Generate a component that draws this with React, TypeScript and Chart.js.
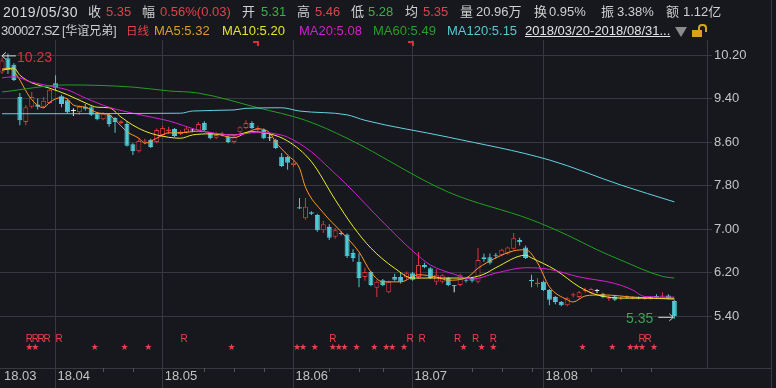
import React, { useEffect, useRef } from 'react';
import { Chart, registerables } from 'chart.js';

Chart.register(...registerables);

// ---------- data ----------
const monthLabels = ['18.03', '18.04', '18.05', '18.06', '18.07', '18.08'];
const monthStartIdx = [0, 9, 27, 49, 69, 91];
const weekTickIdx = [17, 22, 34, 39, 44, 55, 60, 64, 79, 84, 89, 99, 104, 109];
const yTickValues = [5.4, 6.2, 7.0, 7.8, 8.6, 9.4, 10.2];

const opens = [
  9.88, 10.14, 10.02, 9.43, 8.97, 9.25, 9.29, 9.25, 9.32, 9.68,
  9.44, 9.37, 9.17, 9.15, 9.25, 9.24, 9.13, 9.02, 9.10, 9.04,
  8.95, 8.93, 8.56, 8.43, 8.61, 8.64, 8.60, 8.73, 8.80, 8.84,
  8.75, 8.78, 8.81, 8.81, 8.95, 8.76, 8.68, 8.72, 8.70, 8.60,
  8.78, 8.86, 8.95, 8.83, 8.82, 8.67, 8.64, 8.33, 8.33, 8.18,
  7.40, 7.20, 7.31, 7.26, 6.98, 7.04, 6.86, 6.93, 6.90, 6.56,
  6.40, 6.12, 6.21, 5.92, 6.06, 5.84, 6.12, 6.12, 6.11, 6.19,
  6.12, 6.34, 6.28, 6.03, 6.03, 6.10, 5.95, 5.97, 6.07, 6.10,
  6.03, 6.48, 6.48, 6.52, 6.52, 6.55, 6.64, 6.80, 6.66, 6.07,
  5.99, 6.03, 5.88, 5.75, 5.66, 5.60, 5.78, 5.75, 5.86, 5.83,
  5.86, 5.81, 5.72, 5.76, 5.71, 5.76, 5.73, 5.75, 5.72, 5.75,
  5.77, 5.76, 5.78, 5.68,
];
const highs = [
  10.15, 10.23, 10.05, 9.50, 9.28, 9.52, 9.40, 9.43, 9.58, 9.83,
  9.47, 9.40, 9.22, 9.27, 9.30, 9.27, 9.15, 9.15, 9.13, 9.06,
  9.00, 8.98, 8.58, 8.67, 8.66, 8.66, 8.85, 8.90, 8.88, 8.86,
  8.81, 8.88, 8.85, 8.97, 8.98, 8.78, 8.78, 8.79, 8.72, 8.72,
  8.89, 9.00, 8.98, 8.90, 8.85, 8.76, 8.66, 8.40, 8.35, 8.25,
  7.57, 7.57, 7.33, 7.28, 7.15, 7.09, 7.02, 6.96, 6.92, 6.63,
  6.55, 6.29, 6.23, 6.06, 6.08, 6.05, 6.18, 6.20, 6.22, 6.21,
  6.58, 6.38, 6.30, 6.26, 6.17, 6.12, 5.96, 6.18, 6.10, 6.12,
  6.65, 6.55, 6.55, 6.56, 6.64, 6.68, 6.93, 6.84, 6.70, 6.16,
  6.10, 6.05, 5.90, 5.77, 5.68, 5.75, 5.83, 5.86, 5.92, 5.92,
  5.90, 5.83, 5.78, 5.78, 5.76, 5.78, 5.77, 5.76, 5.76, 5.77,
  5.80, 5.84, 5.80, 5.70,
];
const lows = [
  9.85, 9.85, 9.72, 8.91, 8.91, 9.22, 9.20, 9.22, 9.30, 9.55,
  9.24, 9.13, 9.08, 9.10, 9.18, 9.08, 9.00, 9.00, 8.88, 8.77,
  8.93, 8.52, 8.36, 8.41, 8.56, 8.49, 8.58, 8.70, 8.75, 8.69,
  8.73, 8.76, 8.78, 8.79, 8.80, 8.65, 8.65, 8.70, 8.58, 8.57,
  8.76, 8.84, 8.84, 8.80, 8.65, 8.62, 8.47, 8.14, 8.09, 8.14,
  7.37, 7.17, 7.26, 6.95, 6.93, 6.80, 6.82, 6.88, 6.47, 6.40,
  5.93, 6.05, 5.95, 5.75, 5.95, 5.82, 6.05, 6.00, 6.08, 6.05,
  6.09, 6.28, 6.08, 5.97, 6.00, 5.95, 5.84, 5.95, 6.02, 6.02,
  6.00, 6.40, 6.35, 6.46, 6.50, 6.53, 6.62, 6.70, 6.45, 5.93,
  5.93, 5.86, 5.60, 5.62, 5.58, 5.58, 5.74, 5.72, 5.83, 5.80,
  5.82, 5.73, 5.68, 5.68, 5.69, 5.72, 5.71, 5.71, 5.70, 5.71,
  5.73, 5.74, 5.71, 5.35,
];
const closes = [
  10.10, 9.92, 9.74, 9.00, 9.24, 9.43, 9.25, 9.36, 9.56, 9.60,
  9.30, 9.15, 9.17, 9.25, 9.21, 9.10, 9.02, 9.12, 8.93, 8.97,
  8.98, 8.53, 8.43, 8.62, 8.63, 8.51, 8.82, 8.86, 8.83, 8.71,
  8.79, 8.85, 8.81, 8.93, 8.82, 8.67, 8.73, 8.76, 8.60, 8.70,
  8.87, 8.95, 8.86, 8.86, 8.67, 8.67, 8.49, 8.16, 8.22, 8.22,
  7.38, 7.41, 7.28, 6.98, 7.09, 6.84, 6.98, 6.91, 6.50, 6.47,
  6.10, 6.21, 5.97, 6.03, 5.97, 6.03, 6.07, 6.03, 6.19, 6.07,
  6.34, 6.30, 6.10, 6.16, 6.15, 5.97, 5.95, 6.16, 6.05, 6.05,
  6.43, 6.45, 6.38, 6.50, 6.62, 6.66, 6.83, 6.76, 6.47, 6.04,
  6.02, 5.88, 5.70, 5.66, 5.60, 5.73, 5.80, 5.84, 5.88, 5.90,
  5.86, 5.75, 5.74, 5.70, 5.73, 5.74, 5.75, 5.73, 5.74, 5.73,
  5.75, 5.78, 5.73, 5.40,
];

// moving-average lines (day index, value)
const ma5Idx = [0, 1, 2, 5, 7, 8, 10, 11, 12, 14, 16, 18, 19, 21, 23, 24, 26, 28, 30, 33, 36, 39, 41, 43, 45, 46, 48, 50, 51, 54, 57, 60, 62, 64, 67, 70, 73, 75, 78, 80, 83, 86, 88, 90, 92, 95, 96, 98, 101, 106, 113];
const ma5Val = [9.94, 9.96, 9.90, 9.38, 9.23, 9.33, 9.42, 9.39, 9.28, 9.24, 9.14, 9.10, 9.01, 8.79, 8.67, 8.58, 8.67, 8.77, 8.77, 8.80, 8.75, 8.68, 8.77, 8.84, 8.77, 8.60, 8.36, 8.12, 7.77, 7.30, 6.95, 6.58, 6.21, 6.03, 6.03, 6.16, 6.12, 6.06, 6.10, 6.28, 6.47, 6.60, 6.62, 6.38, 5.94, 5.70, 5.66, 5.77, 5.79, 5.75, 5.71];
const ma10Idx = [0, 2, 3, 5, 8, 11, 14, 16, 18, 20, 22, 24, 26, 30, 32, 35, 39, 42, 45, 48, 52, 56, 59, 62, 66, 69, 74, 78, 81, 83, 88, 89, 93, 97, 100, 105, 113];
const ma10Val = [9.92, 9.96, 9.83, 9.69, 9.59, 9.47, 9.32, 9.24, 9.23, 9.06, 8.91, 8.80, 8.73, 8.67, 8.73, 8.75, 8.73, 8.79, 8.75, 8.62, 8.24, 7.54, 7.05, 6.65, 6.28, 6.10, 6.10, 6.10, 6.17, 6.29, 6.52, 6.47, 6.25, 5.94, 5.79, 5.73, 5.73];
const ma20Idx = [0, 2, 5, 9, 11, 14, 18, 22, 25, 28, 33, 39, 43, 46, 48, 52, 55, 58, 64, 69, 72, 76, 79, 83, 88, 92, 97, 103, 106, 108, 113];
const ma20Val = [9.78, 9.80, 9.70, 9.61, 9.56, 9.41, 9.24, 9.13, 9.06, 8.99, 8.82, 8.73, 8.78, 8.75, 8.69, 8.42, 8.12, 7.81, 7.13, 6.60, 6.34, 6.17, 6.08, 6.19, 6.29, 6.26, 6.12, 6.00, 5.88, 5.76, 5.75];
const ma60Idx = [0, 11, 22, 28, 33, 43, 51, 58, 75, 89, 95, 100, 104, 111, 113];
const ma60Val = [9.52, 9.65, 9.61, 9.54, 9.50, 9.23, 9.00, 8.67, 7.68, 7.17, 6.89, 6.62, 6.43, 6.13, 6.10];
const ma120Idx = [0, 30, 32, 39, 41, 47, 50, 58, 61, 75, 92, 104, 113];
const ma120Val = [9.12, 9.13, 9.17, 9.19, 9.22, 9.23, 9.17, 9.10, 9.00, 8.69, 8.27, 7.81, 7.50];

const starIdx = [4, 5, 15, 20, 24, 38, 49, 50, 52, 55, 56, 57, 59, 62, 64, 65, 67, 77, 80, 82, 97, 102, 105, 106, 107, 109];
const rIdx = [4, 5, 6, 7, 9, 30, 55, 68, 70, 76, 79, 82, 107, 108];
const flagIdx = [42, 68];

// ---------- styles ----------
const BG = '#16181d';
const GRID = '#363940';
const FONT = "'Liberation Sans', 'Noto Sans CJK SC', Arial, sans-serif";
const UP = '#e0343e';
const DOWN = '#4fc9d3';
const FLAT = '#e6e6e6';
const LABEL = '#cfcfcf';
const RED_T = '#e2424a';
const GREEN_T = '#3bb04a';

const X_MIN = -0.336;
const X_MAX = 118.49;
const Y_MIN = 4.446;
const Y_MAX = 10.476;

const candleColor = (i: number) =>
  closes[i] > opens[i] ? UP : closes[i] < opens[i] ? DOWN : FLAT;

const overlay = {
  id: 'overlay',
  afterDraw(chart: any) {
    const { ctx, chartArea } = chart;
    const x = chart.scales.x;
    const y = chart.scales.y;
    ctx.save();
    // frame extensions
    ctx.strokeStyle = GRID;
    ctx.lineWidth = 1;
    ctx.beginPath();
    ctx.moveTo(chartArea.right, Math.round(chartArea.bottom) + 0.5);
    ctx.lineTo(772, Math.round(chartArea.bottom) + 0.5);
    ctx.moveTo(771.5, 0);
    ctx.lineTo(771.5, 388);
    ctx.stroke();
    // weekly minor ticks
    ctx.strokeStyle = '#50535b';
    ctx.beginPath();
    weekTickIdx.forEach((i) => {
      const px = Math.round(x.getPixelForValue(i)) + 0.5;
      ctx.moveTo(px, chartArea.bottom);
      ctx.lineTo(px, chartArea.bottom + 4);
    });
    ctx.stroke();
    // R markers and stars
    ctx.fillStyle = '#e8404c';
    ctx.textAlign = 'center';
    ctx.textBaseline = 'middle';
    ctx.font = `10px ${FONT}`;
    rIdx.forEach((i) => ctx.fillText('R', x.getPixelForValue(i) + 3.5, 339));
    ctx.font = `9px 'DejaVu Sans', sans-serif`;
    starIdx.forEach((i) => ctx.fillText('★', x.getPixelForValue(i) + 3.5, 348));
    // small flags at top
    ctx.fillStyle = '#d8303a';
    flagIdx.forEach((i) => {
      const px = Math.round(x.getPixelForValue(i));
      ctx.fillRect(px + 1, 41, 6, 2);
      ctx.fillRect(px + 5, 41, 2, 5);
    });
    // max / min annotations
    let hi = 0;
    let lo = 0;
    highs.forEach((v, i) => { if (v > highs[hi]) hi = i; });
    lows.forEach((v, i) => { if (v < lows[lo]) lo = i; });
    const hx = x.getPixelForValue(hi);
    const hy = y.getPixelForValue(highs[hi]);
    ctx.strokeStyle = '#d8d8d8';
    ctx.lineWidth = 1;
    ctx.beginPath();
    ctx.moveTo(hx - 6, hy + 2.5);
    ctx.lineTo(hx + 8, hy + 2.5);
    ctx.moveTo(hx - 6, hy + 2.5);
    ctx.lineTo(hx - 2, hy - 1);
    ctx.moveTo(hx - 6, hy + 2.5);
    ctx.lineTo(hx - 2, hy + 6);
    ctx.stroke();
    ctx.fillStyle = '#d8343e';
    ctx.font = `14px ${FONT}`;
    ctx.textAlign = 'left';
    ctx.fillText(highs[hi].toFixed(2), hx + 9, hy + 5);
    const lx = x.getPixelForValue(lo);
    const ly = y.getPixelForValue(lows[lo]);
    ctx.beginPath();
    ctx.moveTo(lx - 16, ly - 1.5);
    ctx.lineTo(lx - 1, ly - 1.5);
    ctx.moveTo(lx - 1, ly - 1.5);
    ctx.lineTo(lx - 5, ly - 5);
    ctx.moveTo(lx - 1, ly - 1.5);
    ctx.lineTo(lx - 5, ly + 2);
    ctx.stroke();
    ctx.fillStyle = '#3aa356';
    ctx.textAlign = 'right';
    ctx.fillText(lows[lo].toFixed(2), lx - 21, ly);
    ctx.restore();
  },
};

function T(props: { x: number; row: number; c: string; s?: number; children: any; extra?: any }) {
  const { x, row, c, s, children, extra } = props;
  return (
    <span
      style={{
        position: 'absolute',
        left: x,
        top: row === 1 ? 4 : 23,
        lineHeight: '16px',
        fontSize: s ?? 13,
        color: c,
        whiteSpace: 'nowrap',
        fontFamily: FONT,
        ...(extra || {}),
      }}
    >
      {children}
    </span>
  );
}

export default function App() {
  const ref = useRef<HTMLCanvasElement>(null);

  useEffect(() => {
    document.body.style.margin = '0';
    document.body.style.background = BG;
    const canvas = ref.current!;
    Chart.defaults.font.family = FONT;
    const idx = opens.map((_, i) => i);
    const colors = idx.map(candleColor);
    const line = (label: string, xs: number[], vs: number[], color: string) => ({
      type: 'line' as const,
      label,
      data: xs.map((v, k) => ({ x: v, y: vs[k] })),
      borderColor: color,
      borderWidth: 1,
      pointRadius: 0,
      cubicInterpolationMode: 'monotone' as const,
      order: 0,
    });
    const chart = new Chart(canvas, {
      type: 'bar',
      data: {
        datasets: [
          line('MA120', ma120Idx, ma120Val, '#63d3e0'),
          line('MA60', ma60Idx, ma60Val, '#22a024'),
          line('MA20', ma20Idx, ma20Val, '#d61fd6'),
          line('MA10', ma10Idx, ma10Val, '#eded30'),
          line('MA5', ma5Idx, ma5Val, '#ff9a26'),
          {
            type: 'bar',
            label: 'body',
            data: idx.map((i) => ({ x: i, y: [opens[i], closes[i]] })) as any,
            backgroundColor: idx.map((i) => (closes[i] > opens[i] ? BG : colors[i])),
            borderColor: colors,
            borderWidth: 1,
            borderSkipped: false,
            barThickness: 5,
            minBarLength: 1,
            grouped: false,
            inflateAmount: 0,
            order: 1,
          } as any,
          {
            type: 'bar',
            label: 'wick',
            data: idx.map((i) => ({ x: i, y: [lows[i], highs[i]] })) as any,
            backgroundColor: colors,
            borderWidth: 0,
            barThickness: 1,
            minBarLength: 1,
            grouped: false,
            inflateAmount: 0,
            order: 2,
          } as any,
        ],
      },
      options: {
        responsive: false,
        maintainAspectRatio: false,
        devicePixelRatio: 1,
        animation: false,
        layout: { padding: { top: 40, left: 0, right: 4, bottom: 0 } },
        plugins: { legend: { display: false }, tooltip: { enabled: false } },
        scales: {
          x: {
            type: 'linear',
            min: X_MIN,
            max: X_MAX,
            offset: false,
            afterBuildTicks: (s: any) => {
              s.ticks = monthStartIdx.map((v) => ({ value: v }));
            },
            afterFit: (s: any) => {
              s.height = 20;
            },
            ticks: {
              color: '#c2c2c2',
              font: { size: 13, family: FONT },
              align: 'start',
              padding: -19,
              labelOffset: 2,
              maxRotation: 0,
              autoSkip: false,
              callback: (_v: any, i: number) => monthLabels[i],
            },
            grid: {
              color: (c: any) => (c.index === 0 ? 'rgba(0,0,0,0)' : GRID),
              tickLength: 20,
              offset: false,
            },
            border: { display: true, color: GRID },
          } as any,
          y: {
            type: 'linear',
            position: 'right',
            min: Y_MIN,
            max: Y_MAX,
            afterBuildTicks: (s: any) => {
              s.ticks = yTickValues.map((v) => ({ value: v }));
            },
            afterFit: (s: any) => {
              s.width = 65;
            },
            ticks: {
              color: '#c4c4c4',
              font: { size: 13, family: FONT },
              padding: 2,
              callback: (v: any) => Number(v).toFixed(2),
            },
            grid: { color: GRID, tickLength: 5 },
            border: { display: true, color: GRID },
          } as any,
        },
      },
      plugins: [overlay],
    });
    return () => chart.destroy();
  }, []);

  return (
    <div
      style={{
        position: 'fixed',
        left: 0,
        top: 0,
        width: 776,
        height: 388,
        background: BG,
        overflow: 'hidden',
      }}
    >
      <canvas
        ref={ref}
        width={776}
        height={388}
        style={{ position: 'absolute', left: 0, top: 0, width: 776, height: 388 }}
      />
      {/* row 1 */}
      <T x={3} row={1} c="#d8d8d8" s={14} extra={{ letterSpacing: '0.5px' }}>2019/05/30</T>
      <T x={88} row={1} c={LABEL}>收</T>
      <T x={106} row={1} c={RED_T}>5.35</T>
      <T x={142} row={1} c={LABEL}>幅</T>
      <T x={160} row={1} c={RED_T}>0.56%(0.03)</T>
      <T x={242} row={1} c={LABEL}>开</T>
      <T x={261} row={1} c={GREEN_T}>5.31</T>
      <T x={297} row={1} c={LABEL}>高</T>
      <T x={315} row={1} c={RED_T}>5.46</T>
      <T x={351} row={1} c={LABEL}>低</T>
      <T x={368} row={1} c={GREEN_T}>5.28</T>
      <T x={405} row={1} c={LABEL}>均</T>
      <T x={423} row={1} c={RED_T}>5.35</T>
      <T x={460} row={1} c={LABEL}>量</T>
      <T x={476} row={1} c={LABEL}>20.96万</T>
      <T x={534} row={1} c={LABEL}>换</T>
      <T x={549} row={1} c={LABEL}>0.95%</T>
      <T x={601} row={1} c={LABEL}>振</T>
      <T x={617} row={1} c={LABEL}>3.38%</T>
      <T x={666} row={1} c={LABEL}>额</T>
      <T x={683} row={1} c={LABEL}>1.12亿</T>
      {/* row 2 */}
      <T x={1} row={2} c={LABEL} extra={{ letterSpacing: '-0.6px' }}>300027.SZ</T>
      <T x={62} row={2} c={LABEL} s={12}>[华谊兄弟]</T>
      <T x={126} row={2} c={RED_T} s={11.5}>日线</T>
      <T x={154} row={2} c="#e39a2c">MA5:5.32</T>
      <T x={222} row={2} c="#e4e42c">MA10:5.20</T>
      <T x={299} row={2} c="#cc22cc">MA20:5.08</T>
      <T x={373} row={2} c="#2a9e2a">MA60:5.49</T>
      <T x={447} row={2} c="#55c8d2">MA120:5.15</T>
      <T x={525} row={2} c="#e2e2e2" extra={{ textDecoration: 'underline' }}>2018/03/20-2018/08/31...</T>
      <div
        style={{
          position: 'absolute',
          left: 675,
          top: 27,
          width: 0,
          height: 0,
          borderLeft: '6px solid transparent',
          borderRight: '6px solid transparent',
          borderTop: '10px solid #8c8c8c',
        }}
      />
      <div
        style={{
          position: 'absolute',
          left: 698,
          top: 24,
          width: 5,
          height: 6,
          border: '2px solid #d9a21e',
          borderBottom: 'none',
          borderRadius: '4px 4px 0 0',
        }}
      />
      <div
        style={{
          position: 'absolute',
          left: 692,
          top: 30,
          width: 10,
          height: 7,
          background: '#d9a21e',
        }}
      />
    </div>
  );
}
